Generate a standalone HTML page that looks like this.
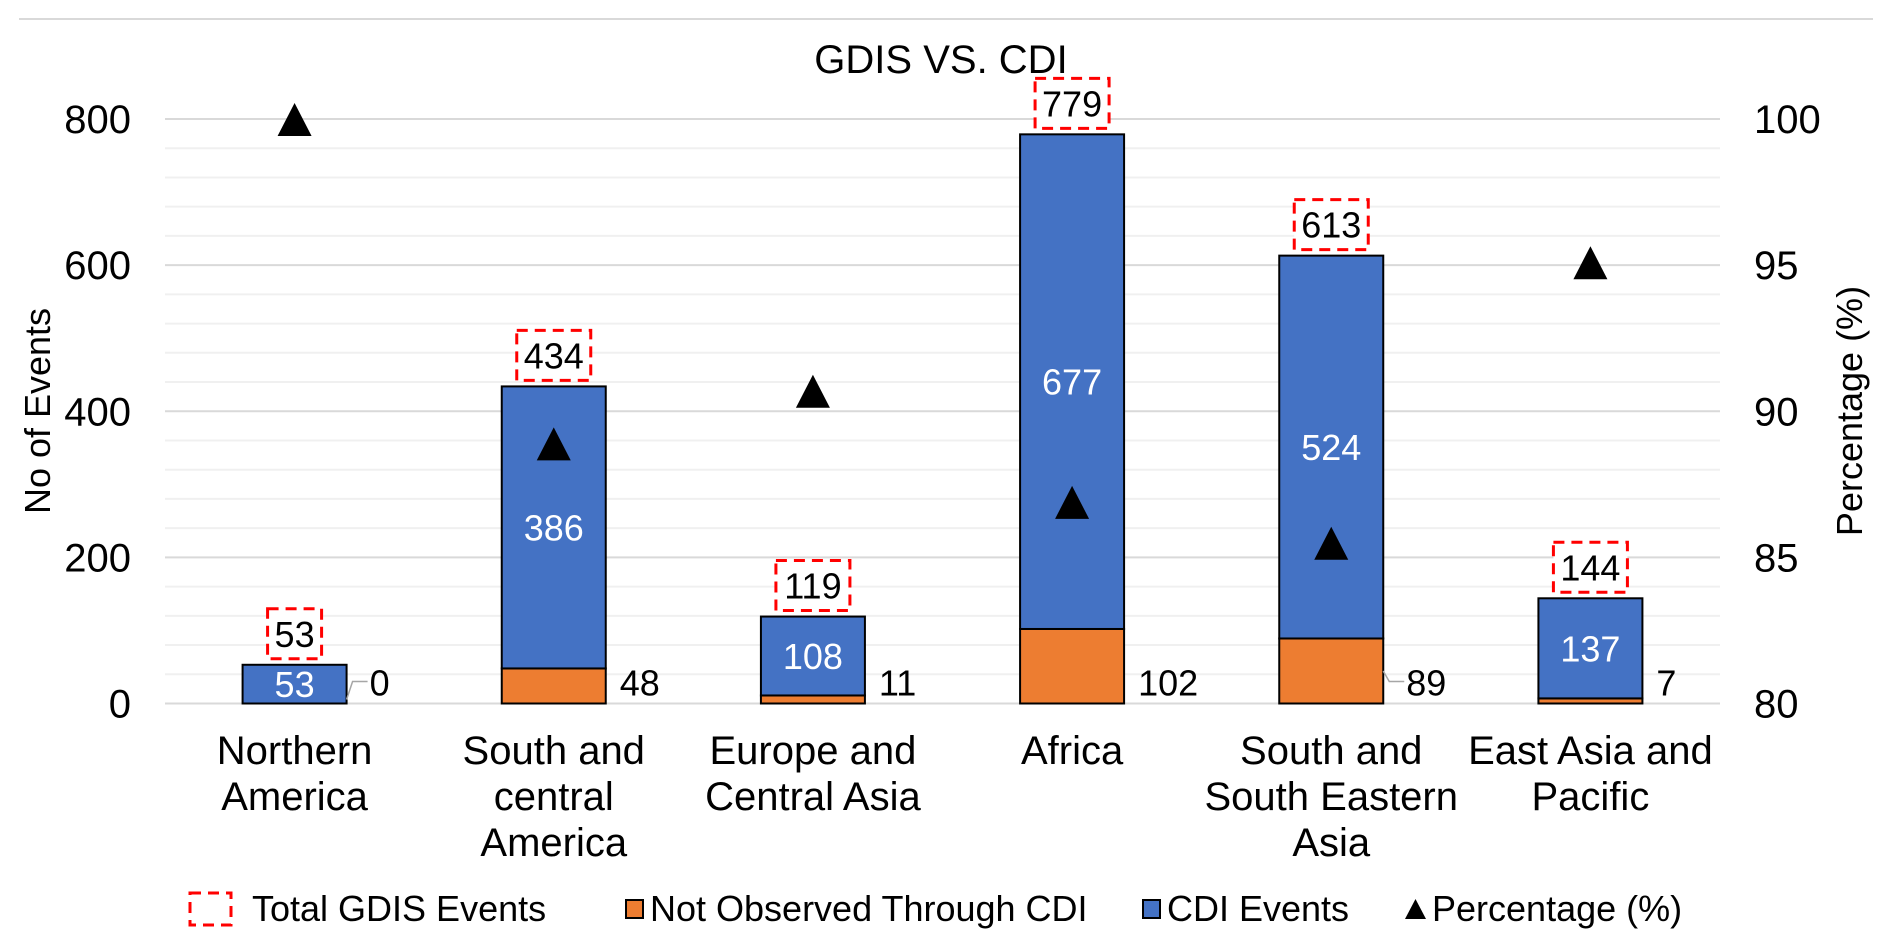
<!DOCTYPE html>
<html><head><meta charset="utf-8"><style>
html,body{margin:0;padding:0;background:#fff;}
svg text{font-family:"Liberation Sans",Arial,sans-serif;}
</style></head><body>
<svg id="chart" width="1892" height="945" viewBox="0 0 1892 945" xmlns="http://www.w3.org/2000/svg">
<line x1="19" y1="19" x2="1873" y2="19" stroke="#d9d9d9" stroke-width="2"/>
<text x="941" y="73" font-size="40" text-anchor="middle" fill="#000">GDIS VS. CDI</text>
<g id="grid"></g><g id="bars"></g><g id="marks"></g><g id="labels"></g>
<text transform="translate(50,411) rotate(-90)" font-size="36" text-anchor="middle" fill="#000">No of Events</text>
<text transform="translate(1862,411) rotate(-90)" font-size="36" text-anchor="middle" fill="#000">Percentage (%)</text>
<g>
<rect x="190" y="893" width="41" height="32" fill="none" stroke="#ff0000" stroke-width="3" stroke-dasharray="11,7"/>
<text x="252" y="921" font-size="36">Total GDIS Events</text>
<rect x="626" y="900" width="17" height="18" fill="#ED7D31" stroke="#000" stroke-width="2"/>
<text x="650" y="921" font-size="36">Not Observed Through CDI</text>
<rect x="1143" y="900" width="17" height="18" fill="#4472C4" stroke="#000" stroke-width="2"/>
<text x="1167" y="921" font-size="36">CDI Events</text>
<polygon points="1405,919 1426,919 1415.5,899" fill="#000"/>
<text x="1432" y="921" font-size="36">Percentage (%)</text>
</g>
</svg>
<script>
const categories = [["Northern","America"],["South and","central","America"],["Europe and","Central Asia"],["Africa"],["South and","South Eastern","Asia"],["East Asia and","Pacific"]];
const totalEvents = [53,434,119,779,613,144];
const cdiEvents = [53,386,108,677,524,137];
const notObserved = [0,48,11,102,89,7];
const percentage = [100,88.9,90.7,86.9,85.5,95.1];
const leftTicks = [0,200,400,600,800];
const rightTicks = [80,85,90,95,100];

const NS="http://www.w3.org/2000/svg";
const plotL=165, plotR=1720, y0=703.5, y800=119;
const yL=v=>y0-(v/800)*(y0-y800);
const yR=v=>y0-((v-80)/20)*(y0-y800);
const band=(plotR-plotL)/categories.length;
const xC=i=>plotL+band*(i+0.5);
const bw=104;
function mk(tag,attrs,parent,text){const e=document.createElementNS(NS,tag);for(const k in attrs)e.setAttribute(k,attrs[k]);if(text!==undefined)e.textContent=text;parent.appendChild(e);return e;}
const grid=document.getElementById('grid'),bars=document.getElementById('bars'),marks=document.getElementById('marks'),labels=document.getElementById('labels');

for(let v=0;v<=800;v+=40){
  const major=v%200===0;
  const l=mk('line',{x1:plotL,x2:plotR,y1:yL(v),y2:yL(v),stroke:major?'#d9d9d9':'#f0f0f0','stroke-width':2},grid);
  
  
}
leftTicks.forEach(t=>{
  const e=mk('text',{x:131,y:yL(t)+14,'font-size':40,'text-anchor':'end'},labels,String(t));
  
  
});
rightTicks.forEach(t=>{
  const e=mk('text',{x:1754,y:yR(t)+14,'font-size':40},labels,String(t));
  
  
});
categories.forEach((lines,i)=>{
  const x=xC(i);
  const ob=notObserved[i], cd=cdiEvents[i], tot=totalEvents[i];
  if(ob>0){
    const r=mk('rect',{x:x-bw/2,y:yL(ob),width:bw,height:y0-yL(ob),fill:'#ED7D31',stroke:'#000','stroke-width':2},bars);
    
    
  }
  const b=mk('rect',{x:x-bw/2,y:yL(ob+cd),width:bw,height:yL(ob)-yL(ob+cd),fill:'#4472C4',stroke:'#000','stroke-width':2},bars);
  
  
  const cl=mk('text',{x:x,y:(yL(ob)+yL(ob+cd))/2+13,'font-size':36,'text-anchor':'middle',fill:'#fff'},labels,String(cd));
  
  
  const lead=(ob===0||ob===89);
  const lx=x+bw/2+(lead?23:14);
  if(lead){
    const ld=mk('polyline',{points:`${x+bw/2},${Math.min(yL(ob/2),y0-4)} ${x+bw/2+6},${y0-22} ${lx-2},${y0-22}`,fill:'none',stroke:'#a6a6a6','stroke-width':1.5},labels);
    
    
  }
  const ol=mk('text',{x:lx,y:y0-8,'font-size':36},labels,String(ob));
  
  
  const tw=String(tot).length*20+14;
  const by=yL(tot)-6;
  const tb=mk('rect',{x:x-tw/2,y:by-50,width:tw,height:50,fill:'#fff',stroke:'#ff0000','stroke-width':3,'stroke-dasharray':'11,7'},labels);
  
  
  const tt=mk('text',{x:x,y:by-12,'font-size':36,'text-anchor':'middle'},labels,String(tot));
  
  
  const py=yR(percentage[i]);
  const tri=mk('polygon',{points:`${x-17},${py+17} ${x+17},${py+17} ${x},${py-16}`,fill:'#000'},marks);
  
  
  const ct=mk('text',{x:x,'font-size':40,'text-anchor':'middle'},labels);
  
  
  lines.forEach((s,j)=>{mk('tspan',{x:x,y:764+j*46},ct,s);});
});
</script>
</body></html>
